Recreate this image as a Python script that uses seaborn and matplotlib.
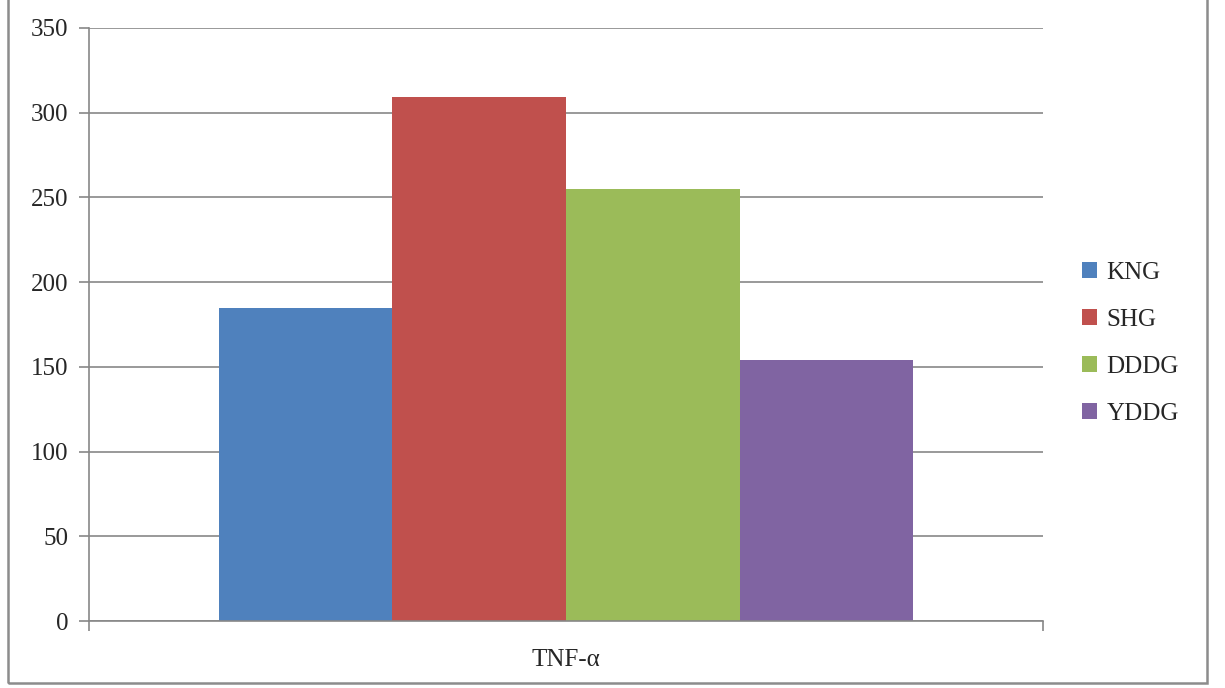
import matplotlib
matplotlib.use("Agg")
import matplotlib.pyplot as plt
import seaborn as sns
import pandas as pd
from matplotlib.patches import Rectangle

# data
category = ["TNF-α"]
groups = ["KNG", "SHG", "DDDG", "YDDG"]
values = [184.5, 309.5, 255, 154]
colors = ["#4F81BD", "#C0504D", "#9BBB59", "#8064A2"]

df = pd.DataFrame({"marker": category * len(groups), "group": groups, "value": values})

sns.set_style("white")
plt.rcParams["font.family"] = ["Liberation Serif", "DejaVu Serif"]

fig = plt.figure(figsize=(12.25, 6.88), dpi=100)
ax = fig.add_axes([89 / 1225, 1 - 621 / 688, (1043 - 89) / 1225, (621 - 28) / 688])

sns.barplot(data=df, x="marker", y="value", hue="group", palette=colors,
            width=0.7285, saturation=1, ax=ax, linewidth=0)

grid_c = "#878787"
ax.set_ylim(0, 350)
ax.set_xlim(-0.5, 0.5)
ax.set_yticks(range(0, 351, 50))
ax.yaxis.grid(True, color=grid_c, linewidth=1.2)
ax.set_axisbelow(True)
ax.tick_params(axis="y", length=7, width=1.2, color=grid_c, labelsize=18, pad=8, left=True)
ax.tick_params(axis="x", which="major", length=0, labelsize=18, pad=20)
ax.set_xticks([-0.5, 0.5], minor=True)
ax.tick_params(axis="x", which="minor", length=7, width=1.2, color=grid_c, bottom=True)
for s in ["top", "right"]:
    ax.spines[s].set_visible(False)
for s in ["left", "bottom"]:
    ax.spines[s].set_color(grid_c)
    ax.spines[s].set_linewidth(1.2)
ax.set_xlabel("")
ax.set_ylabel("")

ax.legend(loc="center left", bbox_to_anchor=(1.017, 0.468), frameon=False,
          fontsize=18, handlelength=0.6, handleheight=0.6, handletextpad=0.4,
          labelspacing=1.0)

fig.patches.append(Rectangle((8 / 1225, 1 - 683 / 688), (1207 - 8) / 1225, 1.1,
                             transform=fig.transFigure, fill=False,
                             edgecolor="#8c8c8c", linewidth=1.8))

fig.savefig("out.png", dpi=100)
